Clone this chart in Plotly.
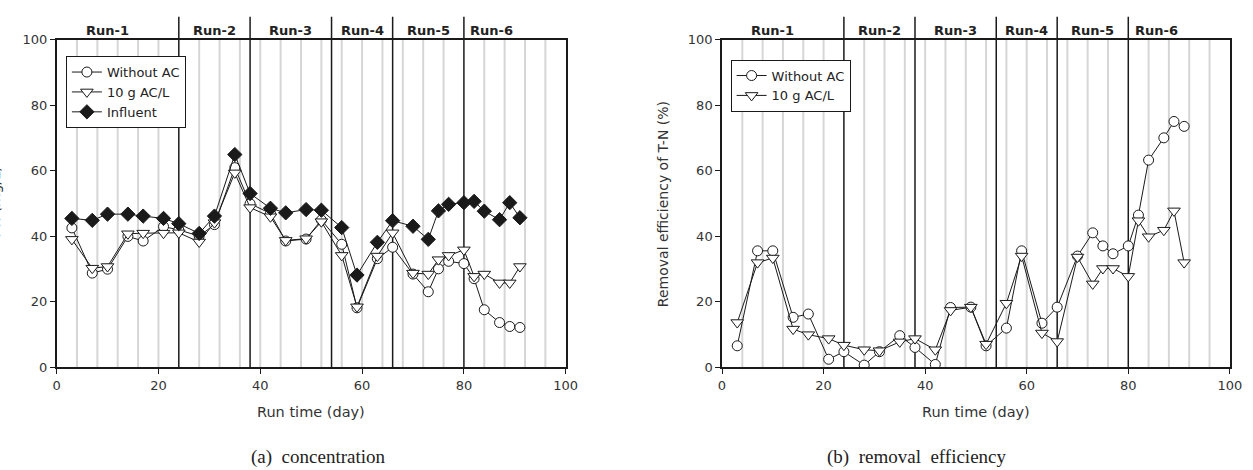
import plotly.graph_objects as go

# ---------------- data ----------------
days = [3, 7, 10, 14, 17, 21, 24, 28, 31, 35, 38, 42, 45, 49, 52, 56, 59, 63, 66,
        70, 73, 75, 77, 80, 82, 84, 87, 89, 91]

# (a) concentration (mg/L)
conc_without_ac = [42.6, 28.8, 30.0, 40.0, 38.6, 43.0, 42.0, 40.1, 43.6, 61.0, 50.0,
                   47.0, 38.6, 39.2, 45.0, 37.6, 18.2, 33.2, 36.7, 28.5, 23.1, 30.1,
                   32.4, 31.7, 27.1, 17.6, 13.7, 12.5, 12.2]
conc_10g_ac = [39.1, 30.3, 30.8, 40.8, 41.0, 41.0, 41.1, 38.3, 44.2, 59.4, 48.8,
               46.0, 38.8, 39.3, 44.5, 34.2, 18.5, 34.0, 41.1, 28.8, 28.5, 32.9,
               34.2, 35.9, 27.8, 28.5, 25.8, 25.8, 30.8]
conc_influent = [45.5, 44.9, 46.8, 46.8, 46.2, 45.5, 43.9, 40.9, 46.2, 65.0, 53.1,
                 48.6, 47.2, 48.2, 48.0, 42.7, 28.2, 38.2, 44.8, 43.1, 39.1, 47.8,
                 49.8, 50.3, 50.7, 47.7, 45.1, 50.3, 45.7]

# (b) removal efficiency (%)
rem_without_ac = [6.6, 35.6, 35.6, 15.3, 16.3, 2.5, 4.8, 0.7, 4.8, 9.7, 6.1, 0.9,
                  18.3, 18.4, 6.6, 12.0, 35.6, 13.5, 18.4, 34.0, 41.1, 37.1, 34.7,
                  37.1, 46.5, 63.3, 70.1, 75.1, 73.6]
rem_10g_ac = [13.7, 32.0, 33.4, 11.7, 10.0, 8.8, 6.8, 5.4, 5.1, 7.8, 8.8, 5.4,
              17.4, 18.4, 7.1, 19.6, 34.0, 10.5, 7.9, 33.7, 25.5, 30.2, 30.2,
              27.8, 44.8, 39.9, 41.9, 47.8, 32.0]

run_labels = ["Run-1", "Run-2", "Run-3", "Run-4", "Run-5", "Run-6"]
run_label_pos = [10, 31, 46, 60, 73, 85.5]
run_bounds = [24, 38, 54, 66, 80]
grid_days = [d for d in range(4, 100, 4) if d not in (24, 80)]
tick_vals = [0, 20, 40, 60, 80, 100]

# ---------------- layout geometry ----------------
W, H = 1253, 470
def px_x(p): return p / W
def px_y(p): return 1 - p / H

dom_a = [px_x(53.3), px_x(569)]
dom_b = [px_x(727.3), px_x(1241.7)]
dom_y = [px_y(372.3), px_y(34)]

FONT = "DejaVu Sans"
LINE = "#1a1a1a"

fig = go.Figure()

def add_series(xa, ya, x, y, name, symbol, fill, legend, size=10):
    fig.add_trace(go.Scatter(
        x=x, y=y, name=name, mode="lines+markers",
        xaxis=xa, yaxis=ya, legend=legend,
        line=dict(color=LINE, width=1),
        marker=dict(symbol=symbol, size=size, color=fill,
                    line=dict(color=LINE, width=1)),
    ))

add_series("x", "y", days, conc_without_ac, "Without AC", "circle", "white", "legend")
add_series("x", "y", days, conc_10g_ac, "10 g AC/L", "triangle-down", "white", "legend", 11)
add_series("x", "y", days, conc_influent, "Influent", "diamond", LINE, "legend", 11)
add_series("x2", "y2", days, rem_without_ac, "Without AC", "circle", "white", "legend2")
add_series("x2", "y2", days, rem_10g_ac, "10 g AC/L", "triangle-down", "white", "legend2", 11)

axis_common = dict(
    range=[0, 100], tickvals=tick_vals, ticks="outside", ticklen=5, tickwidth=1,
    tickcolor=LINE, showline=True, linecolor=LINE, linewidth=1.5, mirror=True,
    showgrid=False, zeroline=False, tickfont=dict(family=FONT, size=13, color="#333"),
)

def ann(text, x, y, xref="paper", yref="paper", size=13, family=FONT, color="#333",
        angle=0):
    return dict(text=text, x=x, y=y, xref=xref, yref=yref, showarrow=False,
                xanchor="center", yanchor="middle", textangle=angle,
                font=dict(family=family, size=size, color=color))

shapes = []
annotations = []
for xr, yr in (("x", "y"), ("x2", "y2")):
    for d in grid_days:
        shapes.append(dict(type="line", xref=xr, yref=yr, x0=d, x1=d, y0=0, y1=100,
                           line=dict(color="#d6d6d6", width=2), layer="below"))
    for d in run_bounds:
        shapes.append(dict(type="line", xref=xr, yref="paper", x0=d, x1=d,
                           y0=dom_y[0], y1=px_y(10),
                           line=dict(color=LINE, width=1.5), layer="below"))
    for lab, pos in zip(run_labels, run_label_pos):
        annotations.append(ann("<b>%s</b>" % lab, pos, px_y(24), xref=xr, color="#222"))

# axis titles
for dom in (dom_a, dom_b):
    annotations.append(ann("Run time (day)", (dom[0] + dom[1]) / 2, px_y(418), size=14.5))
# left y title: only its lower edge shows at the page border, as in the reference
annotations.append(ann("T-N (mg/L)", px_x(-9), (dom_y[0] + dom_y[1]) / 2, size=14,
                       angle=-90))
annotations.append(ann("Removal efficiency of T-N (%)", px_x(667),
                       (dom_y[0] + dom_y[1]) / 2, size=14, angle=-90))
# captions
annotations.append(ann("(a)  concentration", px_x(318), px_y(465), size=19,
                       family="Liberation Serif", color="#222"))
annotations.append(ann("(b)  removal  efficiency", px_x(925), px_y(465), size=19,
                       family="Liberation Serif", color="#222"))

legend_common = dict(bgcolor="white", bordercolor=LINE, borderwidth=1,
                     font=dict(family=FONT, size=13, color="#222"),
                     xanchor="left", yanchor="top", tracegroupgap=0,
                     xref="paper", yref="paper")

fig.update_layout(
    width=W, height=H, margin=dict(l=0, r=0, t=0, b=0),
    paper_bgcolor="white", plot_bgcolor="rgba(0,0,0,0)",
    xaxis=dict(domain=dom_a, anchor="y", **axis_common),
    yaxis=dict(domain=dom_y, anchor="x", **axis_common),
    xaxis2=dict(domain=dom_b, anchor="y2", **axis_common),
    yaxis2=dict(domain=dom_y, anchor="x2", **axis_common),
    legend=dict(x=px_x(62.7), y=px_y(50.7), **legend_common),
    legend2=dict(x=px_x(736), y=px_y(54.3), **legend_common),
    shapes=shapes, annotations=annotations,
    showlegend=True,
)

fig.write_html("out.html")
